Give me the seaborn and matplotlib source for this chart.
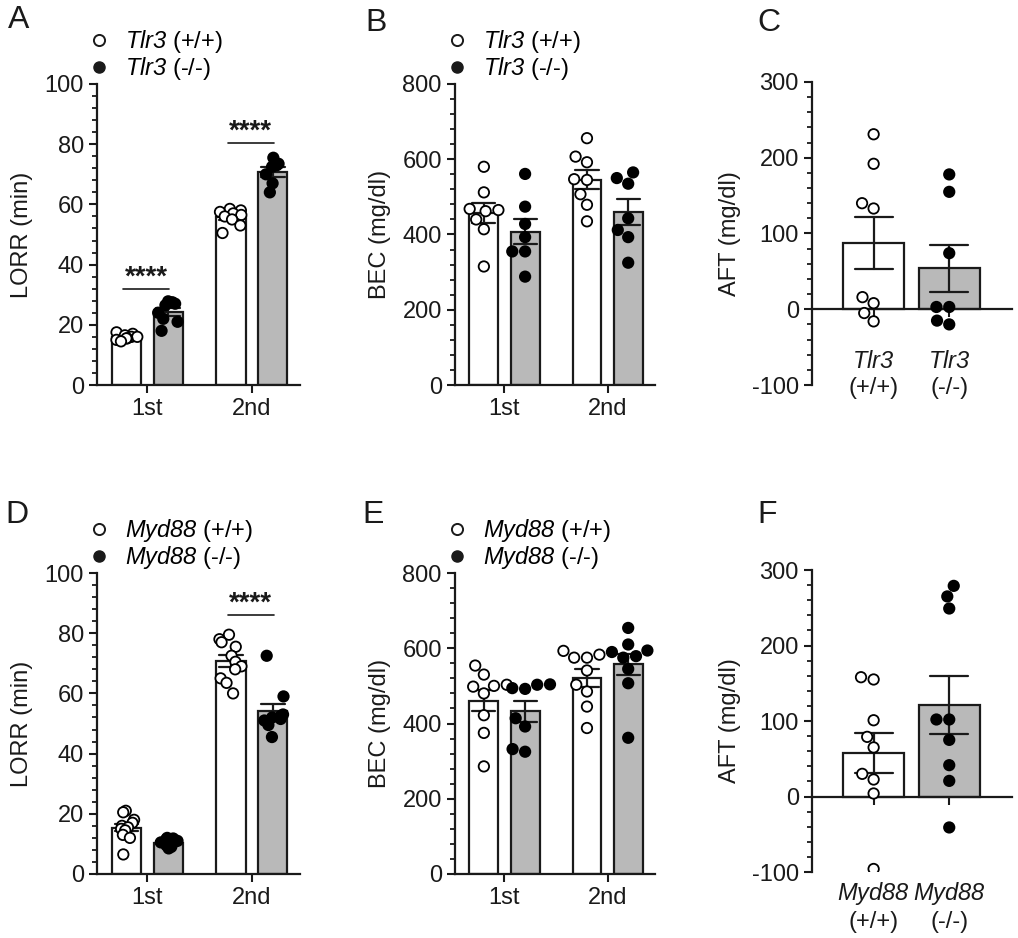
import numpy as np
import pandas as pd
import matplotlib
matplotlib.use("Agg")
import matplotlib.pyplot as plt
from matplotlib.lines import Line2D
from matplotlib.ticker import MultipleLocator
import seaborn as sns

sns.set_theme(style="ticks")
plt.rcParams['font.family'] = ['Liberation Sans', 'DejaVu Sans']
plt.rcParams['mathtext.fontset'] = 'custom'
plt.rcParams['mathtext.it'] = 'Liberation Sans:italic'
plt.rcParams['mathtext.rm'] = 'Liberation Sans:italic'
plt.rcParams['axes.unicode_minus'] = False
for k in ['text.color', 'axes.labelcolor', 'xtick.color', 'ytick.color', 'axes.edgecolor']:
    plt.rcParams[k] = 'black'
np.random.seed(7)  # only for strip jitter

sessions = ['1st', '2nd']

# A - Tlr3 LORR (min)
tlr3_lorr_wt_1st = [17.5, 17, 16.5, 16, 16, 15.5, 15.5, 15, 14.5]
tlr3_lorr_ko_1st = [27.8, 27.5, 27, 26.5, 24, 22, 21, 18]
tlr3_lorr_wt_2nd = [58.5, 58, 57.5, 57, 56.5, 56, 55, 53, 50.5]
tlr3_lorr_ko_2nd = [75.5, 73.5, 73, 72.5, 70, 67, 64]
# B - Tlr3 BEC (mg/dl)
tlr3_bec_wt_1st = [580, 512, 468, 465, 462, 440, 414, 315]
tlr3_bec_ko_1st = [561, 474, 428, 393, 355, 355, 288]
tlr3_bec_wt_2nd = [656, 607, 592, 547, 545, 507, 479, 435]
tlr3_bec_ko_2nd = [565, 550, 535, 443, 412, 393, 325]
# C - Tlr3 AFT (mg/dl)
tlr3_aft_wt = [231, 192, 140, 133, 16, 8, -5, -16]
tlr3_aft_ko = [178, 155, 74, 3, 3, -15, -20]
# D - Myd88 LORR (min)
myd88_lorr_wt_1st = [21, 20.5, 18, 17, 16, 15.5, 15, 14.5, 13, 12, 6.5]
myd88_lorr_ko_1st = [12, 11.8, 11.5, 11, 10.5, 10.5, 10, 9.5, 9, 8.5]
myd88_lorr_wt_2nd = [79.5, 78, 77, 75.5, 72.5, 70.5, 69, 68, 65, 63.5, 60]
myd88_lorr_ko_2nd = [72.5, 59, 53, 52.5, 52, 51.5, 51, 49.5, 45.5]
# E - Myd88 BEC (mg/dl)
myd88_bec_wt_1st = [554, 530, 503, 500, 498, 480, 422, 375, 286]
myd88_bec_ko_1st = [504, 503, 494, 492, 414, 392, 332, 325]
myd88_bec_wt_2nd = [593, 583, 575, 575, 541, 503, 485, 445, 388]
myd88_bec_ko_2nd = [654, 610, 594, 590, 579, 575, 545, 507, 362]
# F - Myd88 AFT (mg/dl)
myd88_aft_wt = [158, 155, 101, 79, 65, 30, 22.5, 4, -96]
myd88_aft_ko = [279, 265, 249, 102, 102, 75, 41.5, 20.7, -41]

# significance marks: (session index, height)
tlr3_lorr_sig = [(0, 32), (1, 80.5)]
myd88_lorr_sig = [(1, 86)]

WHITE = '#ffffff'
GREY = '#b9b9b9'
FS = 17


def session_df(wt1, ko1, wt2, ko2):
    rows = []
    for sess, g, vals in [('1st', 'wt', wt1), ('1st', 'ko', ko1),
                          ('2nd', 'wt', wt2), ('2nd', 'ko', ko2)]:
        for v in vals:
            rows.append((sess, g, v))
    return pd.DataFrame(rows, columns=['session', 'genotype', 'value'])


def geno_df(wt, ko):
    rows = [('wt', v) for v in wt] + [('ko', v) for v in ko]
    return pd.DataFrame(rows, columns=['genotype', 'value'])


def style_axis(ax, ylim, step, ylabel):
    sns.despine(ax=ax)
    ax.set_ylim(*ylim)
    ax.yaxis.set_major_locator(MultipleLocator(step))
    ax.yaxis.set_minor_locator(MultipleLocator(step / 5))
    for s in ['left', 'bottom']:
        ax.spines[s].set_linewidth(1.6)
        ax.spines[s].set_color('k')
    ax.tick_params(axis='both', which='major', length=6, width=1.5,
                   labelsize=FS, color='k', labelcolor='k')
    ax.tick_params(axis='y', which='minor', length=3.5, width=1.3, color='k')
    ax.set_ylabel(ylabel, fontsize=FS, labelpad=8, color='k')
    ax.set_xlabel('')


def add_legend(ax, gene):
    handles = [Line2D([], [], marker='o', ls='', mfc='white', mec='k', mew=1.4, ms=8),
               Line2D([], [], marker='o', ls='', mfc='k', mec='k', ms=8)]
    labels = [r'$\mathit{%s}$ (+/+)' % gene, r'$\mathit{%s}$ (-/-)' % gene]
    ax.legend(handles, labels, loc='lower left', bbox_to_anchor=(-0.025, 1.005),
              frameon=False, fontsize=FS, handlelength=0.6, handletextpad=0.8,
              labelspacing=0.02, borderpad=0, borderaxespad=0)


def session_panel(ax, df, ylim, step, ylabel, gene, sig=(), dense=False):
    sns.barplot(data=df, x='session', y='value', hue='genotype', order=sessions,
                hue_order=['wt', 'ko'], palette=[WHITE, GREY], saturation=1,
                errorbar='se', capsize=0.45, err_kws={'color': 'k', 'linewidth': 1.6},
                width=0.8, gap=0.3, edgecolor='k', linewidth=1.6, legend=False, ax=ax)
    pts = dict(data=df, x='session', y='value', hue='genotype', order=sessions,
               hue_order=['wt', 'ko'], palette=['white', 'black'], dodge=True,
               size=7.5, edgecolor='black', linewidth=1.3, legend=False, ax=ax)
    if dense:
        sns.stripplot(jitter=0.22, **pts)
    else:
        sns.swarmplot(warn_thresh=1, **pts)
    ax.set_xlim(-0.48, 1.46)
    style_axis(ax, ylim, step, ylabel)
    for i, h in sig:
        ax.plot([i - 0.23, i + 0.21], [h, h], color='k', lw=1.2)
        ax.annotate('****', (i - 0.01, h), xytext=(0, 3), textcoords='offset points',
                    ha='center', va='baseline', fontsize=20, fontweight='bold', color='k')
    add_legend(ax, gene)


def geno_panel(ax, df, ylim, step, ylabel, gene, pad):
    sns.barplot(data=df, x='genotype', y='value', hue='genotype', order=['wt', 'ko'],
                palette=[WHITE, GREY], saturation=1, errorbar='se', capsize=0.5,
                err_kws={'color': 'k', 'linewidth': 1.6}, width=0.81,
                edgecolor='k', linewidth=1.6, legend=False, ax=ax)
    sns.swarmplot(data=df, x='genotype', y='value', hue='genotype', order=['wt', 'ko'],
                  palette=['white', 'black'], size=7.5, edgecolor='black',
                  linewidth=1.3, legend=False, warn_thresh=1, ax=ax)
    ax.set_xlim(-0.815, 1.83)
    style_axis(ax, ylim, step, ylabel)
    ax.spines['bottom'].set_position(('data', 0))
    ax.set_xticks([0, 1])
    ax.set_xticklabels([r'$\mathit{%s}$' % gene + '\n(+/+)', r'$\mathit{%s}$' % gene + '\n(-/-)'],
                       linespacing=1.25)
    ax.tick_params(axis='x', pad=pad)


fig = plt.figure(figsize=(10.18, 9.38), dpi=100)
W, H = 1018, 938


def add_axes(left, top, right, bottom):
    return fig.add_axes([left / W, 1 - bottom / H, (right - left) / W, (bottom - top) / H])


axA = add_axes(97, 84, 300, 385)
axB = add_axes(455, 84, 655, 385)
axC = add_axes(812, 82, 1012, 385)
axD = add_axes(97, 573, 300, 874)
axE = add_axes(455, 573, 655, 874)
axF = add_axes(812, 570, 1012, 872)

session_panel(axA, session_df(tlr3_lorr_wt_1st, tlr3_lorr_ko_1st, tlr3_lorr_wt_2nd, tlr3_lorr_ko_2nd),
              (0, 100), 20, 'LORR (min)', 'Tlr3', tlr3_lorr_sig, dense=True)
session_panel(axB, session_df(tlr3_bec_wt_1st, tlr3_bec_ko_1st, tlr3_bec_wt_2nd, tlr3_bec_ko_2nd),
              (0, 800), 200, 'BEC (mg/dl)', 'Tlr3')
geno_panel(axC, geno_df(tlr3_aft_wt, tlr3_aft_ko), (-100, 300), 100, 'AFT (mg/dl)', 'Tlr3', 24)
session_panel(axD, session_df(myd88_lorr_wt_1st, myd88_lorr_ko_1st, myd88_lorr_wt_2nd, myd88_lorr_ko_2nd),
              (0, 100), 20, 'LORR (min)', 'Myd88', myd88_lorr_sig, dense=True)
session_panel(axE, session_df(myd88_bec_wt_1st, myd88_bec_ko_1st, myd88_bec_wt_2nd, myd88_bec_ko_2nd),
              (0, 800), 200, 'BEC (mg/dl)', 'Myd88')
geno_panel(axF, geno_df(myd88_aft_wt, myd88_aft_ko), (-100, 300), 100, 'AFT (mg/dl)', 'Myd88', 54)

for lab, x, y in [('A', 8, 5), ('B', 365, 8), ('C', 757, 8),
                  ('D', 5, 500), ('E', 362, 500), ('F', 757, 500)]:
    fig.text(x / W, 1 - y / H, lab, fontsize=23, va='top', ha='left', color='k')

fig.savefig('out.png', dpi=100, facecolor='white')
